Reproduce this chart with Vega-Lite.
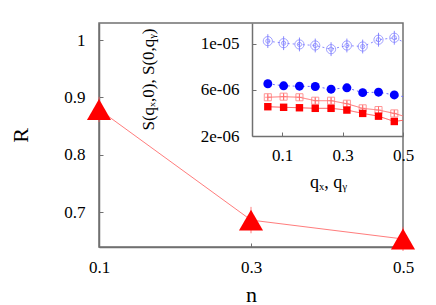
{
  "$schema": "https://vega.github.io/schema/vega-lite/v6.json",
  "width": 304,
  "height": 224,
  "autosize": {"type": "none"},
  "padding": {"left": 99, "top": 23, "right": 33, "bottom": 58},
  "background": "white",
  "config": {
    "font": "Liberation Serif",
    "view": {"stroke": "#707070", "strokeWidth": 1.5},
    "axis": {
      "grid": false,
      "domainColor": "#707070",
      "domainWidth": 1.5,
      "tickColor": "#707070",
      "tickSize": -4,
      "tickWidth": 1,
      "labelFont": "Liberation Serif",
      "labelFontSize": 17,
      "labelColor": "black",
      "titleFont": "Liberation Serif",
      "titleFontWeight": "normal",
      "titleColor": "black",
      "labelFlush": false,
      "labelOverlap": false
    }
  },
  "datasets": {
    "main": [
      {"n": 0.1, "R": 0.879, "lo": 0.857, "hi": 0.901},
      {"n": 0.3, "R": 0.686, "lo": 0.663, "hi": 0.709},
      {"n": 0.5, "R": 0.653, "lo": 0.632, "hi": 0.674}
    ],
    "inset": [
      {"s": "a", "q": 0.0524, "S": 1.023e-5, "lo": 0.963e-5, "hi": 1.083e-5},
      {"s": "a", "q": 0.1047, "S": 1.005e-5, "lo": 0.945e-5, "hi": 1.065e-5},
      {"s": "a", "q": 0.1571, "S": 0.994e-5, "lo": 0.934e-5, "hi": 1.054e-5},
      {"s": "a", "q": 0.2094, "S": 0.985e-5, "lo": 0.925e-5, "hi": 1.045e-5},
      {"s": "a", "q": 0.2618, "S": 0.953e-5, "lo": 0.893e-5, "hi": 1.013e-5},
      {"s": "a", "q": 0.3142, "S": 0.985e-5, "lo": 0.925e-5, "hi": 1.045e-5},
      {"s": "a", "q": 0.3665, "S": 0.976e-5, "lo": 0.916e-5, "hi": 1.036e-5},
      {"s": "a", "q": 0.4189, "S": 1.035e-5, "lo": 0.975e-5, "hi": 1.095e-5},
      {"s": "a", "q": 0.4712, "S": 1.052e-5, "lo": 0.992e-5, "hi": 1.112e-5},
      {"s": "a", "q": 0.5236, "S": 0.99e-5, "lo": 0.93e-5, "hi": 1.05e-5},
      {"s": "b", "q": 0.0524, "S": 6.53e-6, "lo": 6.18e-6, "hi": 6.88e-6},
      {"s": "b", "q": 0.1047, "S": 6.35e-6, "lo": 6.0e-6, "hi": 6.7e-6},
      {"s": "b", "q": 0.1571, "S": 6.32e-6, "lo": 5.97e-6, "hi": 6.67e-6},
      {"s": "b", "q": 0.2094, "S": 6.29e-6, "lo": 5.94e-6, "hi": 6.64e-6},
      {"s": "b", "q": 0.2618, "S": 6.06e-6, "lo": 5.71e-6, "hi": 6.41e-6},
      {"s": "b", "q": 0.3142, "S": 6.18e-6, "lo": 5.83e-6, "hi": 6.53e-6},
      {"s": "b", "q": 0.3665, "S": 5.76e-6, "lo": 5.41e-6, "hi": 6.11e-6},
      {"s": "b", "q": 0.4189, "S": 5.8e-6, "lo": 5.45e-6, "hi": 6.15e-6},
      {"s": "b", "q": 0.4712, "S": 5.56e-6, "lo": 5.21e-6, "hi": 5.91e-6},
      {"s": "b", "q": 0.5236, "S": 5.3e-6, "lo": 4.95e-6, "hi": 5.65e-6},
      {"s": "c", "q": 0.0524, "S": 5.36e-6, "lo": 5.06e-6, "hi": 5.66e-6},
      {"s": "c", "q": 0.1047, "S": 5.41e-6, "lo": 5.11e-6, "hi": 5.71e-6},
      {"s": "c", "q": 0.1571, "S": 5.36e-6, "lo": 5.06e-6, "hi": 5.66e-6},
      {"s": "c", "q": 0.2094, "S": 5.06e-6, "lo": 4.76e-6, "hi": 5.36e-6},
      {"s": "c", "q": 0.2618, "S": 5.06e-6, "lo": 4.76e-6, "hi": 5.36e-6},
      {"s": "c", "q": 0.3142, "S": 4.8e-6, "lo": 4.5e-6, "hi": 5.1e-6},
      {"s": "c", "q": 0.3665, "S": 4.4e-6, "lo": 4.1e-6, "hi": 4.7e-6},
      {"s": "c", "q": 0.4189, "S": 4.25e-6, "lo": 3.95e-6, "hi": 4.55e-6},
      {"s": "c", "q": 0.4712, "S": 3.96e-6, "lo": 3.66e-6, "hi": 4.26e-6},
      {"s": "c", "q": 0.5236, "S": 3.55e-6, "lo": 3.25e-6, "hi": 3.85e-6},
      {"s": "d", "q": 0.0524, "S": 4.54e-6, "lo": 4.3e-6, "hi": 4.78e-6},
      {"s": "d", "q": 0.1047, "S": 4.49e-6, "lo": 4.25e-6, "hi": 4.73e-6},
      {"s": "d", "q": 0.1571, "S": 4.45e-6, "lo": 4.21e-6, "hi": 4.69e-6},
      {"s": "d", "q": 0.2094, "S": 4.4e-6, "lo": 4.16e-6, "hi": 4.64e-6},
      {"s": "d", "q": 0.2618, "S": 4.4e-6, "lo": 4.16e-6, "hi": 4.64e-6},
      {"s": "d", "q": 0.3142, "S": 4.25e-6, "lo": 4.01e-6, "hi": 4.49e-6},
      {"s": "d", "q": 0.3665, "S": 3.96e-6, "lo": 3.72e-6, "hi": 4.2e-6},
      {"s": "d", "q": 0.4189, "S": 3.72e-6, "lo": 3.48e-6, "hi": 3.96e-6},
      {"s": "d", "q": 0.4712, "S": 3.26e-6, "lo": 3.02e-6, "hi": 3.5e-6},
      {"s": "d", "q": 0.5236, "S": 3.45e-6, "lo": 3.21e-6, "hi": 3.69e-6}
    ]
  },
  "layer": [
    {
      "data": {"name": "main"},
      "mark": {"type": "line", "color": "#ff5a5a", "strokeWidth": 0.8},
      "encoding": {
        "x": {"field": "n", "type": "quantitative", "scale": {"domain": [0.1, 0.5], "nice": false, "zero": false},
          "axis": {"orient": "bottom", "values": [0.1, 0.3, 0.5], "labelPadding": 16, "title": "n", "titleFontSize": 22, "titleX": 152, "titleY": 54, "titleBaseline": "alphabetic", "titleAlign": "center"}},
        "y": {"field": "R", "type": "quantitative", "scale": {"domain": [0.639, 1.03], "nice": false, "zero": false},
          "axis": {"orient": "left", "values": [0.7, 0.8, 0.9, 1], "format": "~g", "labelPadding": 18, "title": "R", "titleFontSize": 22, "titleX": -79, "titleY": 112, "titleBaseline": "middle", "titleAlign": "center", "titleAngle": -90}}
      }
    },
    {
      "data": {"name": "main"},
      "mark": {"type": "rule", "color": "#ff5a5a", "strokeWidth": 0.8},
      "encoding": {
        "x": {"field": "n", "type": "quantitative", "scale": {"domain": [0.1, 0.5], "nice": false, "zero": false}, "axis": null},
        "y": {"field": "lo", "type": "quantitative", "scale": {"domain": [0.639, 1.03], "nice": false, "zero": false}, "axis": null},
        "y2": {"field": "hi"}
      }
    },
    {
      "data": {"name": "main"},
      "mark": {"type": "point", "shape": "triangle-up", "filled": true, "color": "#ff0000", "opacity": 1, "size": 580},
      "encoding": {
        "x": {"field": "n", "type": "quantitative", "scale": {"domain": [0.1, 0.5], "nice": false, "zero": false}, "axis": null},
        "y": {"field": "R", "type": "quantitative", "scale": {"domain": [0.639, 1.03], "nice": false, "zero": false}, "axis": null}
      }
    },
    {
      "data": {"name": "inset"},
      "mark": {"type": "line", "strokeWidth": 1, "clip": true},
      "encoding": {
        "x": {"field": "q", "type": "quantitative", "scale": {"domain": [0, 0.5], "range": [153, 304], "nice": false, "zero": false},
          "axis": {"orient": "bottom", "offset": -111, "values": [0.1, 0.3, 0.5], "labelPadding": 15, "title": "qₓ, qᵧ", "titleFontSize": 18, "titleX": 229, "titleY": 51, "titleBaseline": "alphabetic", "titleAlign": "center"}},
        "y": {"field": "S", "type": "quantitative", "scale": {"domain": [2e-6, 1.18e-5], "range": [113, 0], "nice": false, "zero": false},
          "axis": {"orient": "left", "offset": -153, "values": [2e-6, 6e-6, 1e-5], "labelExpr": "datum.value < 3e-6 ? '2e-06' : (datum.value < 8e-6 ? '6e-06' : '1e-05')", "labelPadding": 17, "title": "S(qₓ,0), S(0,qᵧ)", "titleFontSize": 17, "titleX": -104, "titleY": 56, "titleBaseline": "middle", "titleAlign": "center", "titleAngle": -90}},
        "color": {"field": "s", "type": "nominal", "scale": {"domain": ["a", "b", "c", "d"], "range": ["#8a8aff", "#6a6aff", "#ff7070", "#ff5050"]}, "legend": null},
        "strokeDash": {"field": "s", "type": "nominal", "scale": {"domain": ["a", "b", "c", "d"], "range": [[2, 3], [2, 3], [1, 0], [1, 0]]}, "legend": null}
      }
    },
    {
      "data": {"name": "inset"},
      "mark": {"type": "rule", "strokeWidth": 1, "clip": true},
      "encoding": {
        "x": {"field": "q", "type": "quantitative", "scale": {"domain": [0, 0.5], "range": [153, 304], "nice": false, "zero": false}, "axis": null},
        "y": {"field": "lo", "type": "quantitative", "scale": {"domain": [2e-6, 1.18e-5], "range": [113, 0], "nice": false, "zero": false}, "axis": null},
        "y2": {"field": "hi"},
        "color": {"field": "s", "type": "nominal", "scale": {"domain": ["a", "b", "c", "d"], "range": ["#8a8aff", "#6a6aff", "#ff7070", "#ff5050"]}, "legend": null}
      }
    },
    {
      "data": {"name": "inset"},
      "transform": [{"filter": "datum.s == 'a'"}],
      "mark": {"type": "point", "shape": "circle", "filled": false, "color": "#7a7aff", "strokeWidth": 1, "size": 85, "clip": true},
      "encoding": {
        "x": {"field": "q", "type": "quantitative", "scale": {"domain": [0, 0.5], "range": [153, 304], "nice": false, "zero": false}, "axis": null},
        "y": {"field": "S", "type": "quantitative", "scale": {"domain": [2e-6, 1.18e-5], "range": [113, 0], "nice": false, "zero": false}, "axis": null}
      }
    },
    {
      "data": {"name": "inset"},
      "transform": [{"filter": "datum.s == 'a'"}],
      "mark": {"type": "point", "shape": "circle", "filled": false, "color": "#7a7aff", "strokeWidth": 1, "size": 18, "clip": true},
      "encoding": {
        "x": {"field": "q", "type": "quantitative", "scale": {"domain": [0, 0.5], "range": [153, 304], "nice": false, "zero": false}, "axis": null},
        "y": {"field": "S", "type": "quantitative", "scale": {"domain": [2e-6, 1.18e-5], "range": [113, 0], "nice": false, "zero": false}, "axis": null}
      }
    },
    {
      "data": {"name": "inset"},
      "transform": [{"filter": "datum.s == 'b'"}],
      "mark": {"type": "point", "shape": "circle", "filled": true, "color": "#0000ff", "opacity": 1, "size": 80, "clip": true},
      "encoding": {
        "x": {"field": "q", "type": "quantitative", "scale": {"domain": [0, 0.5], "range": [153, 304], "nice": false, "zero": false}, "axis": null},
        "y": {"field": "S", "type": "quantitative", "scale": {"domain": [2e-6, 1.18e-5], "range": [113, 0], "nice": false, "zero": false}, "axis": null}
      }
    },
    {
      "data": {"name": "inset"},
      "transform": [{"filter": "datum.s == 'c'"}],
      "mark": {"type": "point", "shape": "square", "filled": false, "color": "#ff6a6a", "strokeWidth": 1, "size": 50, "clip": true},
      "encoding": {
        "x": {"field": "q", "type": "quantitative", "scale": {"domain": [0, 0.5], "range": [153, 304], "nice": false, "zero": false}, "axis": null},
        "y": {"field": "S", "type": "quantitative", "scale": {"domain": [2e-6, 1.18e-5], "range": [113, 0], "nice": false, "zero": false}, "axis": null}
      }
    },
    {
      "data": {"name": "inset"},
      "transform": [{"filter": "datum.s == 'c'"}],
      "mark": {"type": "point", "shape": "M-1,0L1,0M0,-1L0,1", "filled": false, "color": "#ff6a6a", "strokeWidth": 1, "size": 30, "clip": true},
      "encoding": {
        "x": {"field": "q", "type": "quantitative", "scale": {"domain": [0, 0.5], "range": [153, 304], "nice": false, "zero": false}, "axis": null},
        "y": {"field": "S", "type": "quantitative", "scale": {"domain": [2e-6, 1.18e-5], "range": [113, 0], "nice": false, "zero": false}, "axis": null}
      }
    },
    {
      "data": {"name": "inset"},
      "transform": [{"filter": "datum.s == 'd'"}],
      "mark": {"type": "point", "shape": "square", "filled": true, "color": "#ff0000", "opacity": 1, "size": 55, "clip": true},
      "encoding": {
        "x": {"field": "q", "type": "quantitative", "scale": {"domain": [0, 0.5], "range": [153, 304], "nice": false, "zero": false}, "axis": null},
        "y": {"field": "S", "type": "quantitative", "scale": {"domain": [2e-6, 1.18e-5], "range": [113, 0], "nice": false, "zero": false}, "axis": null}
      }
    }
  ],
  "resolve": {"scale": {"x": "independent", "y": "independent", "color": "independent", "strokeDash": "independent"}, "axis": {"x": "independent", "y": "independent"}}
}
